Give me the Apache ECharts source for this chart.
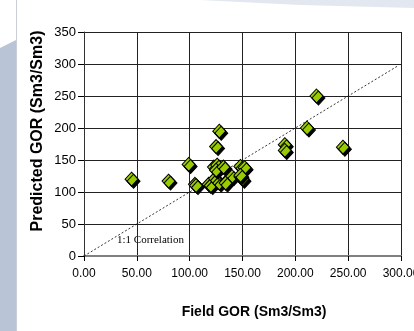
<!DOCTYPE html>
<html><head><meta charset="utf-8">
<script src="https://cdn.jsdelivr.net/npm/echarts@6/dist/echarts.min.js"></script>
<style>html,body{margin:0;padding:0;background:#fff}#c{width:414px;height:331px}</style>
</head><body><div id="c"></div>
<script>
const fieldGOR = [45, 80, 99, 105, 106, 118, 120, 128, 125, 123, 126, 124, 128, 125, 132, 135, 140, 134, 148, 148, 152, 150, 148, 190, 190, 211, 220, 245];
const predictedGOR = [120, 117, 143, 112, 110, 112, 110, 195, 171, 139, 142, 121, 114, 134, 139, 117, 124, 114, 140, 124, 138, 120, 126, 174, 165, 200, 250, 170];
const xTicks = ['0.00', '50.00', '100.00', '150.00', '200.00', '250.00', '300.00'];
const yTicks = ['0', '50', '100', '150', '200', '250', '300', '350'];
const lineLabel = '1:1 Correlation';
const diag = [[0, 0], [297, 297]];

const chart = echarts.init(document.getElementById('c'));
chart.setOption({
  backgroundColor: '#fff',
  animation: false,
  graphic: [
    { type: 'polygon', z: -10, shape: { points: [[0, 48], [16, 40], [16, 331], [0, 331]] }, style: { fill: '#b9c5d7' } },
    { type: 'polygon', z: -10, shape: { points: [[200, 0], [414, 0], [414, 8], [300, 5]] }, style: { fill: '#e3e8f0' } },
    { type: 'line', z: -9, shape: { x1: 16.5, y1: 0, x2: 16.5, y2: 331 }, style: { stroke: '#c9ced6', lineWidth: 1 } },
    { type: 'text', left: 117, top: 235, style: { text: lineLabel, font: '11px "Liberation Serif"', fill: '#000' } },
    { type: 'text', x: 254, y: 312, style: { text: 'Field GOR (Sm3/Sm3)', font: 'bold 14px "Liberation Sans"', fill: '#000', align: 'center', verticalAlign: 'middle' } },
    { type: 'text', x: 38, y: 131, rotation: Math.PI / 2, style: { text: 'Predicted GOR (Sm3/Sm3)', font: 'bold 16px "Liberation Sans"', fill: '#000', align: 'center', verticalAlign: 'middle' } }
  ],
  grid: { left: 84, right: 13, top: 32, bottom: 75, outerBoundsMode: 'none', containLabel: false },
  xAxis: {
    type: 'value', min: 0, max: 300, interval: 50,
    axisLine: { show: true, onZero: false, lineStyle: { color: '#808080', width: 2 } },
    axisTick: { show: true, length: 5, lineStyle: { color: '#000' } },
    axisLabel: { margin: 12, color: '#000', fontSize: 12, fontFamily: 'Liberation Sans',
      formatter: v => xTicks[Math.round(v / 50)] },
    splitLine: { show: true, lineStyle: { color: '#222', width: 1 } }
  },
  yAxis: {
    type: 'value', min: 0, max: 350, interval: 50,
    axisLine: { show: true, onZero: false, lineStyle: { color: '#333', width: 1 } },
    axisTick: { show: true, length: 6, lineStyle: { color: '#000' } },
    axisLabel: { margin: 8, color: '#000', fontSize: 13, fontFamily: 'Liberation Sans',
      formatter: v => yTicks[Math.round(v / 50)] },
    splitLine: { show: true, lineStyle: { color: '#222', width: 1 } }
  },
  series: [
    {
      type: 'line', data: diag, symbol: 'none', silent: true, z: 1,
      lineStyle: { color: '#000', width: 0.8, type: [2, 2] }
    },
    {
      type: 'scatter', z: 3,
      data: fieldGOR.map((x, i) => [x, predictedGOR[i]]),
      symbol: 'diamond', symbolSize: [13, 14],
      itemStyle: { color: '#99cc00', borderColor: '#000', borderWidth: 1,
        shadowColor: '#000', shadowOffsetX: 2, shadowOffsetY: 2, shadowBlur: 0, opacity: 1 }
    }
  ]
});
</script></body></html>
